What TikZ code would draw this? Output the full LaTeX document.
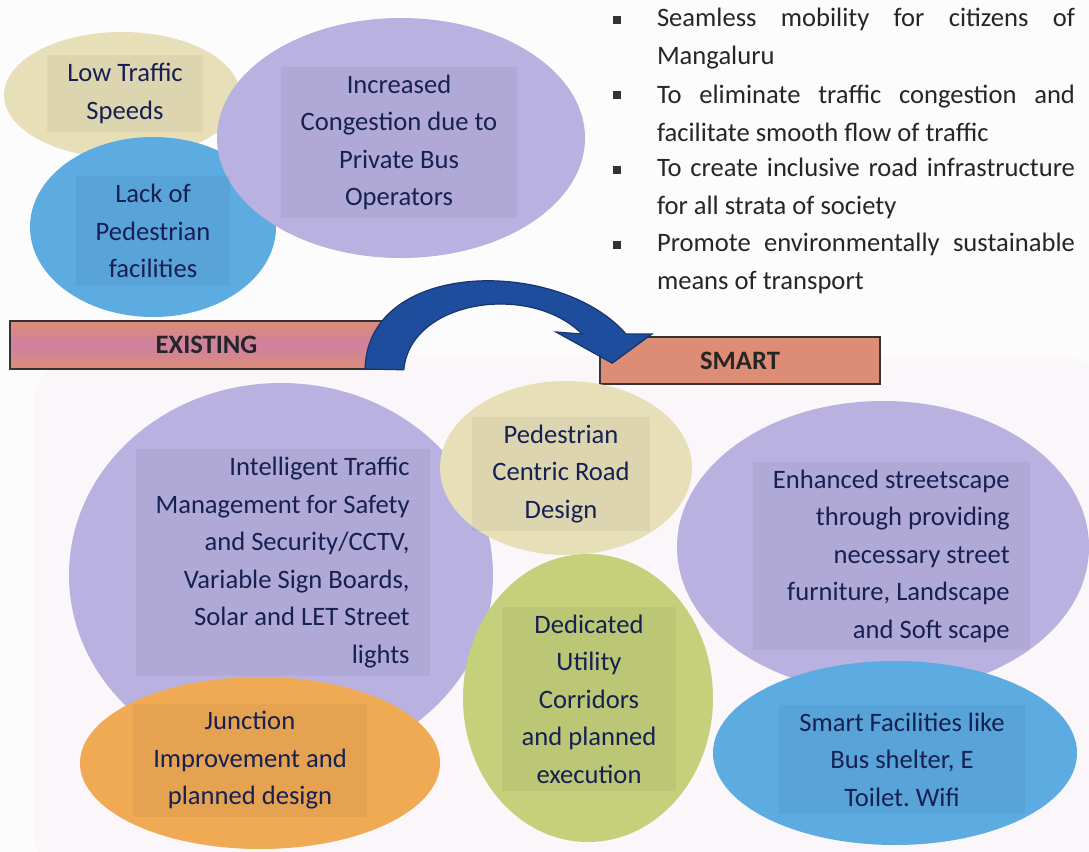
\documentclass[tikz,border=0pt]{standalone}
\usepackage{fontspec}
\setmainfont{Carlito}
\usetikzlibrary{calc}
\usetikzlibrary{shapes.geometric}
\definecolor{paper}{RGB}{253, 252, 253}
\definecolor{blush}{RGB}{250, 246, 249}
\definecolor{sand}{RGB}{231, 223, 184}
\definecolor{lavender}{RGB}{185, 177, 223}
\definecolor{sky}{RGB}{92, 171, 225}
\definecolor{tangerine}{RGB}{240, 170, 84}
\definecolor{olive}{RGB}{196, 209, 122}
\definecolor{salmon}{RGB}{221, 141, 118}
\definecolor{orchid}{RGB}{206, 128, 162}
\definecolor{navy}{RGB}{22, 32, 82}
\definecolor{royal}{RGB}{31, 77, 157}

\tikzset{
  bubble/.style={ellipse, inner sep=0pt, draw=none},
  blurb/.style={font=\fontsize{13.3}{18.75}\selectfont, text=navy, align=center,
                fill=black, fill opacity=0.045, text opacity=1, inner xsep=10pt, inner ysep=4pt},
  goal/.style={font=\fontsize{13.3}{18.75}\selectfont, text=black!85, text width=209pt,
               align=justify, inner sep=0pt},
  tick/.style={rectangle, fill=black!80, minimum size=4pt, inner sep=0pt},
  banner/.style={rectangle, draw=black!80, line width=0.8pt, inner sep=0pt,
                 font=\bfseries\fontsize{13.3}{16}\selectfont, text=black!85}
}

\begin{document}
\frenchspacing
\begin{tikzpicture}[x=0.5pt, y=-0.5pt]
  \useasboundingbox (0,0) rectangle (1089,852);
  \fill[paper] (0,0) rectangle (1089,852);
  \fill[blush, rounded corners=25pt] (33,356) rectangle (1110,880);

  % existing problems
  \node[bubble, fill=sand,     minimum width=236pt*0.5, minimum height=126pt*0.5] (lowspeed) at (122,95) {};
  \node[bubble, fill=sky,      minimum width=246pt*0.5, minimum height=180pt*0.5] (nowalk)   at (153,227) {};
  \node[bubble, fill=lavender, minimum width=368pt*0.5, minimum height=240pt*0.5] (busjam)   at (401,138) {};
  \node[blurb] (lowspeedtext) at (125,93.5)  {Low Traffic\\Speeds};
  \node[blurb] (nowalktext)   at (153,231)   {Lack of\\Pedestrian\\facilities};
  \node[blurb] (busjamtext)   at (399,142.5) {Increased\\Congestion due to\\Private Bus\\Operators};

  % goals
  \node[tick] (tick1) at (617,20)  {};
  \node[tick] (tick2) at (617,95)  {};
  \node[tick] (tick3) at (617,170) {};
  \node[tick] (tick4) at (617,245) {};
  \node[goal] (goal1) at (866,38.5)  {Seamless mobility for citizens of\linebreak Mangaluru};
  \node[goal] (goal2) at (866,113.5) {To eliminate traffic congestion and\linebreak facilitate smooth flow of traffic};
  \node[goal] (goal3) at (866,188.5) {To create inclusive road infrastructure\linebreak for all strata of society};
  \node[goal] (goal4) at (866,263.5) {Promote environmentally sustainable\linebreak means of transport};

  % banners
  \node[banner, top color=salmon, bottom color=salmon, middle color=orchid,
        minimum width=196.5pt, minimum height=24pt] (existing) at (206.5,345) {EXISTING};
  \node[banner, fill=salmon, minimum width=140pt, minimum height=23.5pt] (smart) at (740,360.5) {SMART};
  \filldraw[royal, draw=royal!70!black, line width=0.6pt]
    (existing.south east) .. controls (410,300) and (530,282) .. (582,334)
    -- (556,332) -- ($(smart.north west)+(13,27)$) -- (652,334) -- (626,334)
    .. controls (560,258) and (368,258) .. (365,369) -- cycle;

  % smart proposals
  \node[bubble, fill=lavender,  minimum width=424pt*0.5, minimum height=384pt*0.5] (itsleft)  at (281,575) {};
  \node[bubble, fill=lavender,  minimum width=412pt*0.5, minimum height=292pt*0.5] (scape)    at (883,547) {};
  \node[bubble, fill=sand,      minimum width=252pt*0.5, minimum height=174pt*0.5] (pedroad)  at (566,468) {};
  \node[bubble, fill=olive,     minimum width=250pt*0.5, minimum height=288pt*0.5] (utility)  at (588,698) {};
  \node[bubble, fill=tangerine, minimum width=360pt*0.5, minimum height=172pt*0.5] (junction) at (260,763) {};
  \node[bubble, fill=sky,       minimum width=364pt*0.5, minimum height=184pt*0.5] (facility) at (895,753) {};
  \node[blurb, align=right, anchor=east] (itstext) at (430,562.5)
    {Intelligent Traffic\\Management for Safety\\and Security/CCTV,\\Variable Sign Boards,\\Solar and LET Street\\lights};
  \node[blurb, align=right, anchor=east] (scapetext) at (1030,556)
    {Enhanced streetscape\\through providing\\necessary street\\furniture, Landscape\\and Soft scape};
  \node[blurb] (pedroadtext)  at (561,474)   {Pedestrian\\Centric Road\\Design};
  \node[blurb] (utilitytext)  at (589,699)   {Dedicated\\Utility\\Corridors\\and planned\\execution};
  \node[blurb] (junctiontext) at (250,760.5) {Junction\\Improvement and\\planned design};
  \node[blurb] (facilitytext) at (902,759.5) {Smart Facilities like\\Bus shelter, E\\Toilet. Wifi};
\end{tikzpicture}
\end{document}
